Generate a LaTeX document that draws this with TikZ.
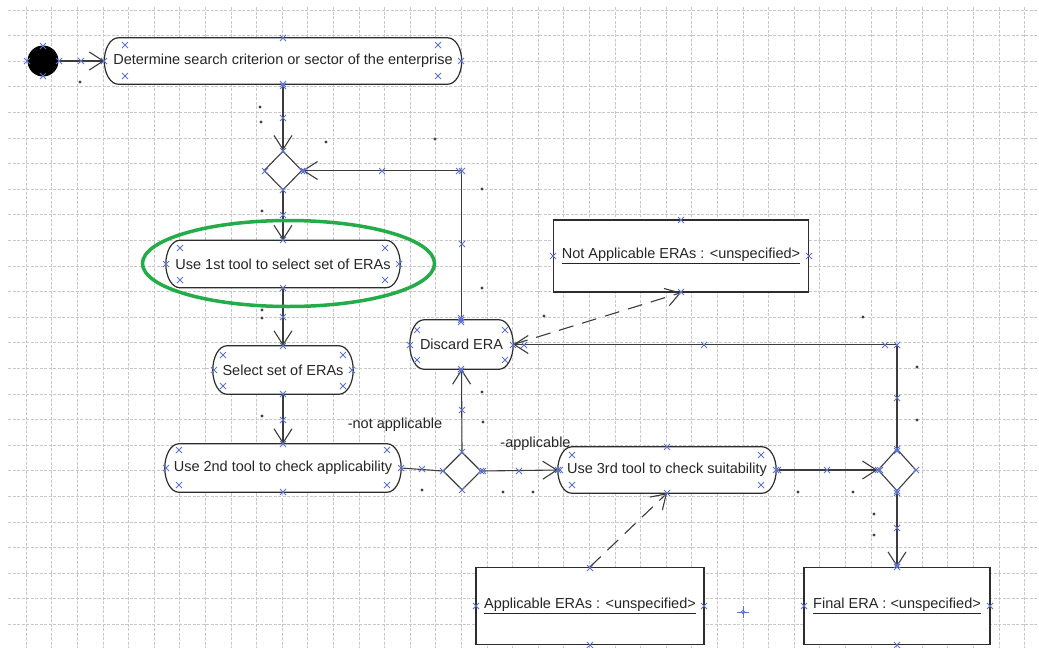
\documentclass[tikz,border=0pt]{standalone}
\usepackage{fontspec}
\setmainfont{Liberation Sans}
\usetikzlibrary{arrows.meta,shapes.geometric,calc}
\pgfdeclarelayer{grid}
\pgfdeclarelayer{body}
\pgfsetlayers{grid,body,main}
\definecolor{lineclr}{RGB}{60,60,60}
\definecolor{boxclr}{RGB}{45,45,45}
\definecolor{markblue}{RGB}{95,115,205}
\definecolor{gridclr}{RGB}{200,200,200}
\definecolor{hilite}{RGB}{35,172,72}
\begin{document}
\begin{tikzpicture}[x=1pt,y=-1pt,
  font=\fontsize{14.5}{17}\selectfont,
  action/.style={rectangle, inner sep=0pt, text=black!85},
  objbox/.style={rectangle, draw=boxclr, line width=1.3pt, fill=white, inner sep=0pt, text=black!85},
  decision/.style={diamond, draw=lineclr, line width=1.1pt, fill=white, inner sep=0pt},
  initial/.style={circle, fill=black, inner sep=0pt, minimum size=31pt},
  stadium/.style={draw=boxclr, line width=1.2pt, fill=white},
  flow/.style={draw=lineclr, line width=1.1pt, -{Straight Barb[length=14pt,width=18pt]}},
  plainflow/.style={draw=lineclr, line width=1.1pt},
  dep/.style={flow, dash pattern=on 15pt off 9pt},
  xmark/.style={draw=markblue, line width=0.9pt},
  gridline/.style={draw=gridclr, line width=0.75pt, dash pattern=on 3pt off 1.5pt},
  star/.style={fill=black!75},
  guard/.style={inner sep=0pt, text=black!85}]

\useasboundingbox (0,0) rectangle (1039,648);

% background grid
\begin{pgfonlayer}{grid}
  \fill[white] (0,0) rectangle (1039,648);
  \foreach \k in {0,...,39}
    \draw[gridline] ({26.2+25.6*\k},7) -- ({26.2+25.6*\k},648);
  \foreach \k in {0,...,24}
    \draw[gridline] (8,{10+25.6*\k}) -- (1039,{10+25.6*\k});
\end{pgfonlayer}

% initial node
\node[initial] (start) at (43,61) {};

% actions
\node[action, minimum width=357pt, minimum height=46pt] (a1) at (283,61)
  {Determine search criterion or sector of the enterprise};
\node[action, minimum width=234pt, minimum height=47pt] (a2) at (283,264)
  {Use 1st tool to select set of ERAs};
\node[action, minimum width=140pt, minimum height=48pt] (a3) at (283,370)
  {Select set of ERAs};
\node[action, minimum width=236pt, minimum height=48pt] (a4) at (283,468)
  {Use 2nd tool to check applicability};
\node[action, minimum width=218pt, minimum height=46pt] (a5) at (667,470)
  {Use 3rd tool to check suitability};
\node[action, minimum width=103pt, minimum height=49pt] (dis) at (461.5,344.5)
  {Discard ERA};

% stadium outlines of the actions
\begin{pgfonlayer}{body}
  \foreach \nm in {a1,a2,a3,a4,a5,dis}{
    \draw[stadium] let \p1=(\nm.north west), \p2=(\nm.south east) in
      (\x1+14pt,\y1) -- (\x2-14pt,\y1)
      arc[start angle=90, end angle=-90, x radius=14pt, y radius={(\y1-\y2)/2}]
      -- (\x1+14pt,\y2)
      arc[start angle=270, end angle=90, x radius=14pt, y radius={(\y1-\y2)/2}]
      -- cycle;
  }
\end{pgfonlayer}

% decisions
\node[decision, minimum width=38pt, minimum height=39pt] (d1) at (283,170.5) {};
\node[decision, minimum width=38pt, minimum height=38pt] (d2) at (462,471) {};
\node[decision, minimum width=38pt, minimum height=42pt] (d3) at (897,470) {};

% object nodes
\node[objbox, minimum width=255pt, minimum height=72pt] (na) at (681,256)
  {\underline{Not Applicable ERAs : <unspecified>}};
\node[objbox, minimum width=228pt, minimum height=77pt] (ap) at (590,606)
  {\underline{Applicable ERAs : <unspecified>}};
\node[objbox, minimum width=186pt, minimum height=77pt] (fe) at (897,606)
  {\underline{Final ERA : <unspecified>}};

% control flows
\draw[flow] (start) -- (a1);
\draw[flow] (a1) -- (d1);
\draw[flow] (dis.north) |- (d1.east);
\draw[flow] (d1) -- (a2);
\draw[flow] (a2) -- (a3);
\draw[flow] (a3) -- (a4);
\draw[plainflow] (a4.east) -- (d2.west);
\draw[flow] (d2.north) -- (dis.south);
\draw[flow] (d2.east) -- (a5.west);
\draw[flow] (a5.east) -- (d3.west);
\draw[flow] (d3.north) |- (dis.east);
\draw[flow] (d3.south) -- (fe.north);

% object flows
\draw[dep] (dis.east) -- (na.south);
\draw[dep] (ap.north) -- (a5.south);

% guards
\node[guard] (gna) at (395,425) {-not applicable};
\node[guard] (ga) at (535.5,444) {-applicable};

% highlight ring
\node[ellipse, draw=hilite, line width=3.5pt, minimum width=292pt, minimum height=86pt, inner sep=0pt]
  (ring) at (288.5,263.5) {};

% multiplicity stars
\foreach \p in {(80,82),(260,107),(261,122),(326,142),(435,139),(482,189),
                (262,211),(262,310),(262,318),(262,416),(422,490),(482,288),
                (544,316),(482,392),(483,422),(503,492),(533,492),(798,492),
                (853,492),(874,514),(874,535),(863,317),(917,367),(917,420)}
  \fill[star] \p circle[radius=1.6pt];

% selection handles
\foreach \p in {(43,46),(43,76),(27,61),(59,61),(81,61),
    (283,38),(283,84),(104,61),(461,61),(125,45),(438,45),(125,76),(438,76),
    (283,86),(283,118),(283,151),
    (265,171),(302,171),(304,171),(283,190),
    (382,171),(459,171),(462,171),(462,244),(461,318),(461,322),
    (283,215),(283,240),
    (283,288),(166,264),(399,264),(180,248),(385,248),(180,280),(385,280),
    (283,317),(283,346),
    (283,394),(214,370),(352,370),(223,355),(343,355),(223,386),(343,386),
    (283,420),(283,444),
    (283,492),(166,468),(401,468),(179,450),(387,450),(179,485),(387,485),
    (422,469),(443,471),
    (462,452),(462,490),(481,471),(483,471),
    (462,410),(461,369),(461,371),
    (461,320),(410,345),(513,345),(417,330),(505,330),(417,360),(505,360),
    (519,471),(558,470),(560,470),
    (667,447),(667,493),(776,470),(778,470),(572,455),(761,455),(572,485),(761,485),
    (827,470),(878,470),(880,470),
    (897,449),(897,451),(916,470),(897,491),(897,493),
    (897,398),(897,345),(885,345),(704,345),(524,345),
    (897,528),(897,567),(897,565),
    (897,645),(804,606),(990,606),
    (590,568),(590,645),(476,606),(704,606),
    (681,220),(681,292),(553,256),(809,256)}
  \draw[xmark] \p +(-3,-3) -- +(3,3) \p +(-3,3) -- +(3,-3);

% drop cursor
\draw[xmark, line width=1pt] (743,606) -- (743,618) (737,612) -- (749,612);
\draw[xmark] (743,612) circle[radius=1.8pt];

\end{tikzpicture}
\end{document}
